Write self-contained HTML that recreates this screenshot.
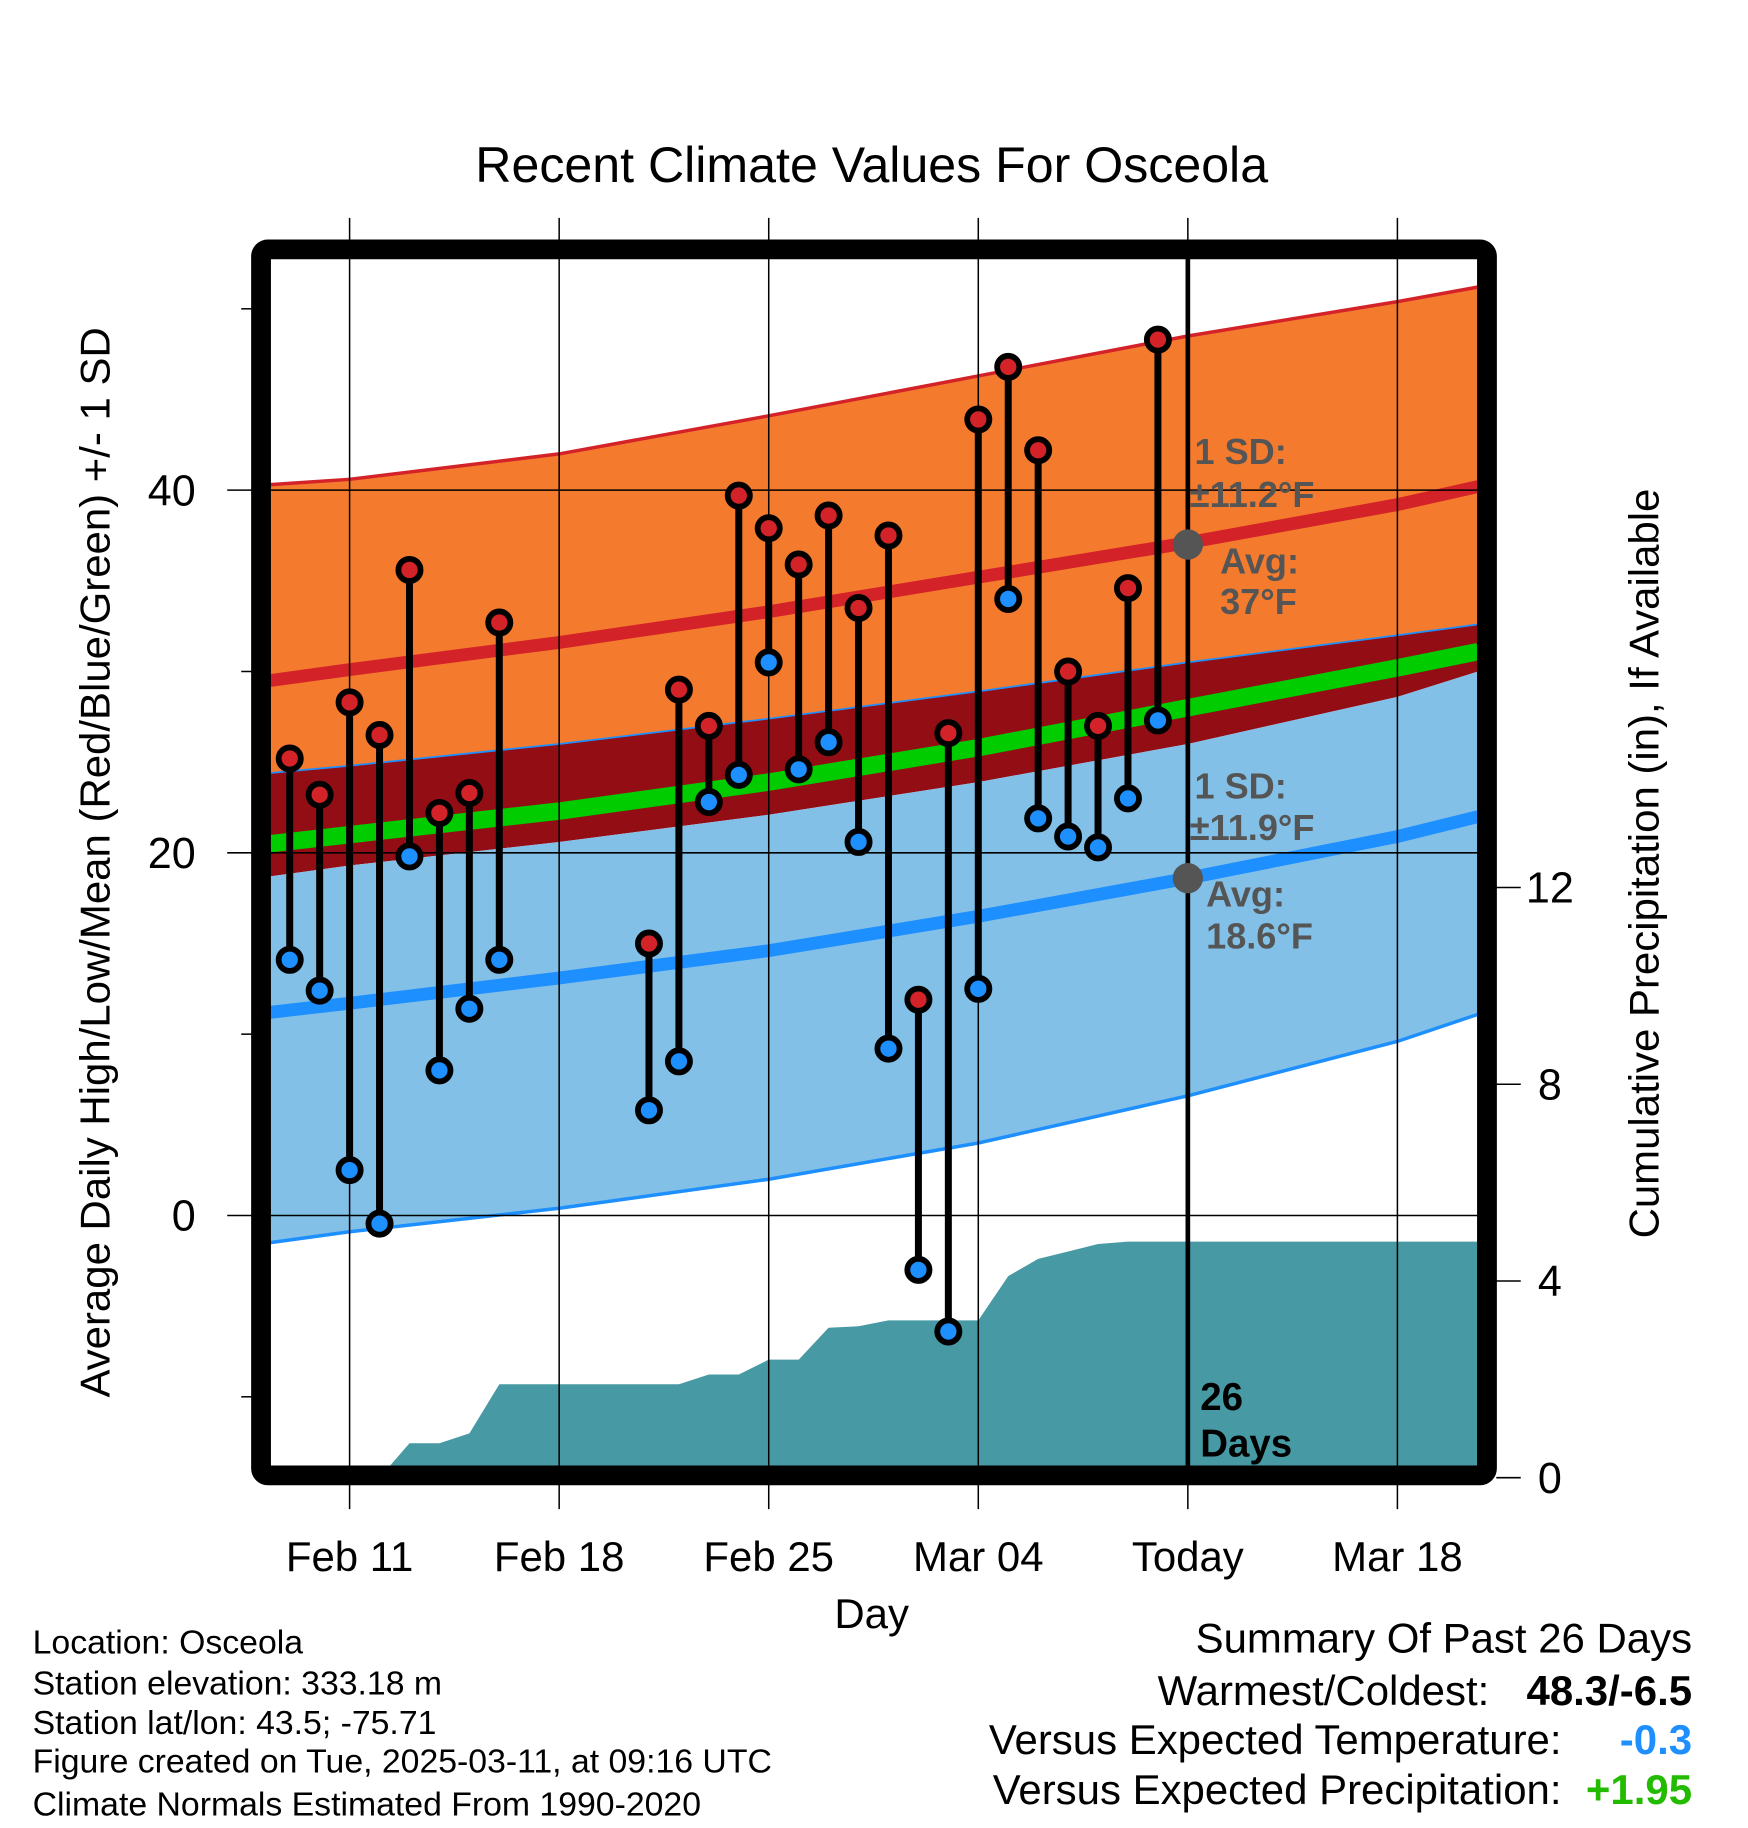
<!DOCTYPE html>
<html><head><meta charset="utf-8"><style>
html,body{margin:0;padding:0;background:#fff;}
svg{display:block;font-family:"Liberation Sans",Arial,sans-serif;}
</style></head><body>
<svg id="chart" width="1748" height="1828" viewBox="0 0 1500 1568.6" preserveAspectRatio="none" xmlns="http://www.w3.org/2000/svg">
<defs><clipPath id="plotclip"><rect x="232" y="222" width="1036" height="1038"/></clipPath></defs>
<g id="bands" clip-path="url(#plotclip)"></g>
<g id="grid"></g>
<g id="marks"></g>
<rect x="224" y="214" width="1052" height="1052" fill="none" stroke="#000" stroke-width="17" rx="6"/>
<text x="748" y="156" font-size="43" text-anchor="middle">Recent Climate Values For Osceola</text>
<text transform="translate(94,740) rotate(-90)" font-size="36" text-anchor="middle">Average Daily High/Low/Mean (Red/Blue/Green) +/- 1 SD</text>
<text transform="translate(1423,741) rotate(-90)" font-size="36" text-anchor="middle">Cumulative Precipitation (in), If Available</text>
<text x="748" y="1397" font-size="36" text-anchor="middle">Day</text>
<g font-size="31" font-weight="bold" fill="#555">
<text x="1025" y="398">1 SD:</text><text x="1021" y="435">±11.2°F</text>
<text x="1047" y="492">Avg:</text><text x="1047" y="527">37°F</text>
<text x="1025" y="685">1 SD:</text><text x="1021" y="721">±11.9°F</text>
<text x="1035" y="778">Avg:</text><text x="1035" y="814">18.6°F</text>
</g>
<g font-size="33" font-weight="bold" fill="#000">
<text x="1030" y="1210">26</text><text x="1030" y="1250">Days</text>
</g>
<g font-size="29">
<text x="28" y="1419">Location: Osceola</text>
<text x="28" y="1454">Station elevation: 333.18 m</text>
<text x="28" y="1488">Station lat/lon: 43.5; -75.71</text>
<text x="28" y="1521">Figure created on Tue, 2025-03-11, at 09:16 UTC</text>
<text x="28" y="1558">Climate Normals Estimated From 1990-2020</text>
</g>
<g font-size="36">
<text x="1452" y="1418" text-anchor="end">Summary Of Past 26 Days</text>
<text x="1278" y="1463" text-anchor="end">Warmest/Coldest:</text>
<text x="1452" y="1463" text-anchor="end" font-weight="bold">48.3/-6.5</text>
<text x="1340" y="1505" text-anchor="end">Versus Expected Temperature:</text>
<text x="1452" y="1505" text-anchor="end" font-weight="bold" fill="#1e8fff">-0.3</text>
<text x="1340" y="1548" text-anchor="end">Versus Expected Precipitation:</text>
<text x="1452" y="1548" text-anchor="end" font-weight="bold" fill="#22bb00">+1.95</text>
</g>
</svg>
<script>
// days relative to Feb 11
const normDays = [-2.65, 0, 7, 14, 21, 28, 35, 37.7];
const highPlusSD = [40.3, 40.6, 42.0, 44.1, 46.3, 48.5, 50.4, 51.2];
const highAvg = [29.5, 30.1, 31.6, 33.3, 35.2, 37.1, 39.2, 40.2];
const highMinusSD = [24.4, 24.8, 26.0, 27.4, 28.9, 30.5, 32.0, 32.6];
const meanAvg = [20.5, 21.0, 22.3, 23.9, 25.8, 28.0, 30.2, 31.1];
const lowPlusSD = [18.7, 19.3, 20.6, 22.1, 23.9, 26.0, 28.6, 30.0];
const lowAvg = [11.2, 11.7, 13.1, 14.6, 16.5, 18.6, 20.9, 22.0];
const lowMinusSD = [-1.5, -0.9, 0.4, 2.0, 4.0, 6.6, 9.6, 11.1];

const obsDays = [-2,-1,0,1,2,3,4,5,10,11,12,13,14,15,16,17,18,19,20,21,22,23,24,25,26,27];
const obsHigh = [25.2,23.2,28.3,26.5,35.6,22.2,23.3,32.7,15.0,29.0,27.0,39.7,37.9,35.9,38.6,33.5,37.5,11.9,26.6,43.9,46.8,42.2,30.0,27.0,34.6,48.3];
const obsLow = [14.1,12.4,2.5,-0.45,19.8,8.0,11.4,14.1,5.8,8.5,22.8,24.3,30.5,24.6,26.1,20.6,9.2,-3.0,-6.4,12.5,34.0,21.9,20.9,20.3,23.0,27.3];

const precipDays = [-2,-1,0,1,2,3,4,5,6,7,8,9,10,11,12,13,14,15,16,17,18,19,20,21,22,23,24,25,26,27,37.7];
const precipCum = [0,0,0,0,0.7,0.7,0.9,1.9,1.9,1.9,1.9,1.9,1.9,1.9,2.1,2.1,2.4,2.4,3.05,3.08,3.2,3.2,3.2,3.2,4.1,4.45,4.6,4.75,4.8,4.8,4.8];

const xTickDays = [0,7,14,21,28,35];
const xTickLabels = ["Feb 11","Feb 18","Feb 25","Mar 04","Today","Mar 18"];
const yTicks = [0,20,40];
const yMinor = [-10,10,30,50];
const y2Ticks = [0,4,8,12];
const todayDay = 28;

const X = d => 300 + 25.69*d;
const Y = t => 1043 - 15.56*t;
const Y2 = p => 1268 - 42.2*p;
const NS = "http://www.w3.org/2000/svg";
function mk(parent, tag, attrs){const e=document.createElementNS(NS,tag);for(const k in attrs)e.setAttribute(k,attrs[k]);parent.appendChild(e);return e;}
function pts(xs, ys, fy){return xs.map((d,i)=>X(d).toFixed(1)+","+fy(ys[i]).toFixed(1));}

const bands=document.getElementById('bands');
function band(top,bot,fill,name){
  const p=pts(normDays,top,Y).concat(pts(normDays,bot,Y).reverse());
  const e=mk(bands,'polygon',{points:p.join(' '),fill:fill});
  
  
}
band(highPlusSD,highMinusSD,'#f47b2e','high-sd-band');
band(highMinusSD,lowPlusSD,'#930e14','mean-band');
band(lowPlusSD,lowMinusSD,'#82c0e8','low-sd-band');
function line(arr,color,w,name){
  const e=mk(bands,'polyline',{points:pts(normDays,arr,Y).join(' '),fill:'none',stroke:color,'stroke-width':w});
  
  
}
line(highPlusSD,'#d42328',3,'high-plus-sd-line');
line(highAvg,'#d42328',11,'high-avg-line');
line(highMinusSD,'#1e8fff',1.5,'high-minus-sd-line');
line(meanAvg,'#00cc00',15,'mean-avg-line');
line(lowAvg,'#1e8fff',11,'low-avg-line');
line(lowMinusSD,'#1e8fff',3,'low-minus-sd-line');
const pp=pts(precipDays,precipCum,Y2);
pp.push(X(37.7).toFixed(1)+","+Y2(0));pp.push(X(-2).toFixed(1)+","+Y2(0));
const pr=mk(bands,'polygon',{points:pp.join(' '),fill:'#4799a3'});



const grid=document.getElementById('grid');
xTickDays.forEach((d,i)=>{
  const l=mk(grid,'line',{x1:X(d),x2:X(d),y1:187,y2:1295,stroke:'#000','stroke-width':1.3});
  
  
  const t=mk(grid,'text',{x:X(d),y:1348,'font-size':36,'text-anchor':'middle'});
  t.textContent=xTickLabels[i];
  
  
});
yTicks.forEach(v=>{
  const l=mk(grid,'line',{x1:195,x2:1268,y1:Y(v),y2:Y(v),stroke:'#000','stroke-width':1.3});
  
  
  const t=mk(grid,'text',{x:168,y:Y(v)+13,'font-size':37,'text-anchor':'end'});
  t.textContent=v;
  
  
});
yMinor.forEach(v=>{
  const l=mk(grid,'line',{x1:207,x2:216,y1:Y(v),y2:Y(v),stroke:'#000','stroke-width':1.3});
  
  
});
y2Ticks.forEach(v=>{
  const l=mk(grid,'line',{x1:1284,x2:1305,y1:Y2(v),y2:Y2(v),stroke:'#000','stroke-width':1.3});
  
  
  const t=mk(grid,'text',{x:1330,y:Y2(v)+13,'font-size':37,'text-anchor':'middle'});
  t.textContent=v;
  
  
});
const tl=mk(grid,'line',{x1:X(todayDay),x2:X(todayDay),y1:222,y2:1260,stroke:'#000','stroke-width':4});


const d1=mk(grid,'circle',{cx:X(todayDay),cy:Y(37),r:13,fill:'#555'});


const d2=mk(grid,'circle',{cx:X(todayDay),cy:Y(18.6),r:13,fill:'#555'});



const marks=document.getElementById('marks');
obsDays.forEach((d,i)=>{
  const s=mk(marks,'line',{x1:X(d),x2:X(d),y1:Y(obsHigh[i]),y2:Y(obsLow[i]),stroke:'#000','stroke-width':6});
  
  
  const h=mk(marks,'circle',{cx:X(d),cy:Y(obsHigh[i]),r:9.5,fill:'#d42328',stroke:'#000','stroke-width':5});
  
  
  const lo=mk(marks,'circle',{cx:X(d),cy:Y(obsLow[i]),r:9.5,fill:'#1e8fff',stroke:'#000','stroke-width':5});
  
  
});
</script>
</body></html>
